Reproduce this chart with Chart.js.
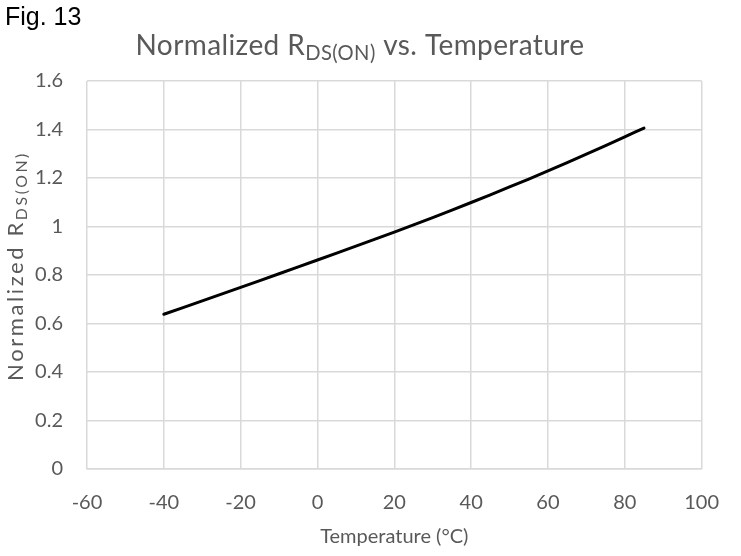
<!DOCTYPE html>
<html>
<head>
<meta charset="utf-8">
<script src="https://cdn.jsdelivr.net/npm/chart.js@4/dist/chart.umd.min.js"></script>
<style>
  html, body { margin: 0; padding: 0; background: #fff; }
  #wrap { width: 741px; height: 556px; position: relative; }
</style>
</head>
<body>
<div id="wrap"><canvas id="rds"></canvas></div>
<script>
// values
const temps = [-40, -30, -20, -10, 0, 10, 20, 30, 40, 50, 60, 70, 80, 85];
const rdsOn = [0.638, 0.693, 0.749, 0.805, 0.862, 0.919, 0.977, 1.037, 1.099, 1.163, 1.229, 1.298, 1.370, 1.406];
const xTicks = [-60, -40, -20, 0, 20, 40, 60, 80, 100];
const yTicks = [0, 0.2, 0.4, 0.6, 0.8, 1, 1.2, 1.4, 1.6];

const FONT = 'Lato, "Open Sans", sans-serif';
const GREY = '#595959';

// text with a subscript part, drawn centred on (0,0) of the current transform
function subText(ctx, parts, size, spacing) {
  ctx.letterSpacing = (spacing || 0) + 'px';
  let w = 0;
  const pieces = parts.map(p => {
    const fs = p.sub ? size * 0.72 : size;
    ctx.font = fs + 'px ' + FONT;
    const pw = ctx.measureText(p.t).width;
    w += pw;
    return { t: p.t, fs, pw, dy: p.sub ? size * 0.28 : 0 };
  });
  let x = -w / 2;
  ctx.textAlign = 'left';
  ctx.textBaseline = 'middle';
  pieces.forEach(p => {
    ctx.font = p.fs + 'px ' + FONT;
    ctx.fillText(p.t, x, p.dy);
    x += p.pw;
  });
  ctx.letterSpacing = '0px';
}

const labelsPlugin = {
  id: 'labels',
  afterDraw(chart) {
    const ctx = chart.ctx;
    const area = chart.chartArea;
    ctx.save();
    ctx.fillStyle = '#000';
    ctx.font = '25px "Liberation Sans", Arial, sans-serif';
    ctx.textAlign = 'left';
    ctx.textBaseline = 'top';
    ctx.fillText('Fig. 13', 5, 6);

    ctx.fillStyle = GREY;
    ctx.save();
    ctx.translate(360, 46);
    subText(ctx, [{ t: 'Normalized R' }, { t: 'DS(ON)', sub: true }, { t: ' vs. Temperature' }], 28, 0.4);
    ctx.restore();

    ctx.save();
    ctx.translate(16, 266);
    ctx.rotate(-Math.PI / 2);
    subText(ctx, [{ t: 'Normalized R' }, { t: 'DS(ON)', sub: true }], 22, 2.6);
    ctx.restore();

    ctx.font = '20px ' + FONT;
    ctx.textAlign = 'center';
    ctx.textBaseline = 'middle';
    ctx.fillText('Temperature (°C)', (area.left + area.right) / 2, 537);
    ctx.restore();
  }
};

new Chart(document.getElementById('rds'), {
  type: 'line',
  data: {
    datasets: [{
      data: temps.map((t, i) => ({ x: t, y: rdsOn[i] })),
      borderColor: '#000',
      borderWidth: 3,
      borderCapStyle: 'round',
      pointRadius: 0,
      tension: 0.3,
      fill: false
    }]
  },
  options: {
    responsive: true,
    maintainAspectRatio: false,
    animation: false,
    layout: { padding: { top: 81, right: 39, bottom: 0, left: 0 } },
    plugins: { legend: { display: false }, tooltip: { enabled: false } },
    scales: {
      x: {
        type: 'linear',
        min: -60,
        max: 100,
        afterBuildTicks: s => { s.ticks = xTicks.map(v => ({ value: v })); },
        afterFit: s => { s.height = 556 - 469; },
        grid: { color: '#d9d9d9', lineWidth: 1.5, drawTicks: false },
        border: { color: '#d9d9d9', width: 1.5 },
        ticks: { color: GREY, font: { family: FONT, size: 20 }, padding: 22 }
      },
      y: {
        min: 0,
        max: 1.6,
        afterBuildTicks: s => { s.ticks = yTicks.map(v => ({ value: v })); },
        afterFit: s => { s.width = 87; },
        grid: { color: '#d9d9d9', lineWidth: 1.5, drawTicks: false },
        border: { display: false },
        ticks: {
          color: GREY,
          font: { family: FONT, size: 20 },
          padding: 24,
          callback: v => String(Math.round(v * 10) / 10)
        }
      }
    }
  },
  plugins: [labelsPlugin]
});
</script>
</body>
</html>
